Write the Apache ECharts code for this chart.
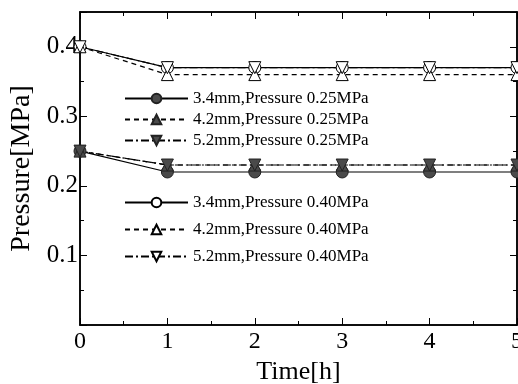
<!DOCTYPE html>
<html>
<head>
<meta charset="utf-8">
<script src="https://cdn.jsdelivr.net/npm/echarts@6/dist/echarts.min.js"></script>
<style>
  html, body { margin: 0; padding: 0; background: #fff; }
  #chart { width: 518px; height: 384px; }
</style>
</head>
<body>
<div id="chart"></div>
<script>
// data
const hours = [0, 1, 2, 3, 4, 5];
const d34_025 = [0.25, 0.22, 0.22, 0.22, 0.22, 0.22];
const d42_025 = [0.25, 0.23, 0.23, 0.23, 0.23, 0.23];
const d52_025 = [0.25, 0.23, 0.23, 0.23, 0.23, 0.23];
const d34_040 = [0.40, 0.37, 0.37, 0.37, 0.37, 0.37];
const d42_040 = [0.40, 0.36, 0.36, 0.36, 0.36, 0.36];
const d52_040 = [0.40, 0.37, 0.37, 0.37, 0.37, 0.37];

const names025 = ['3.4mm,Pressure 0.25MPa', '4.2mm,Pressure 0.25MPa', '5.2mm,Pressure 0.25MPa'];
const names040 = ['3.4mm,Pressure 0.40MPa', '4.2mm,Pressure 0.40MPa', '5.2mm,Pressure 0.40MPa'];

const serif = 'Liberation Serif';
const downTri = 'path://M0,0 L10,0 L5,9 Z';

function pts(vals) {
  return vals.map((v, i) => [hours[i], v]);
}

function makeSeries(name, vals, symbol, filled, lineType) {
  return {
    name: name,
    type: 'line',
    data: pts(vals),
    symbol: symbol,
    symbolSize: 12,
    lineStyle: { color: '#000', width: 1.2, type: lineType },
    itemStyle: {
      color: filled ? '#4a4a4a' : '#fff',
      borderColor: filled ? '#222' : '#000',
      borderWidth: 1
    },
    emphasis: { disabled: true },
    animation: false
  };
}

function ticks() {
  return { show: true, inside: true, length: 7, lineStyle: { color: '#000', width: 1 } };
}
function minor() {
  return { show: true, splitNumber: 2, length: 4, lineStyle: { color: '#000', width: 1 } };
}
function line() {
  return { show: true, onZero: false, lineStyle: { color: '#000', width: 1.5 } };
}

const chart = echarts.init(document.getElementById('chart'));

chart.setOption({
  backgroundColor: '#fff',
  animation: false,
  grid: {
    left: 80, right: 1, top: 12, bottom: 59,
    outerBoundsMode: 'none',
    containLabel: false,
    show: true, borderColor: '#000', borderWidth: 1.5
  },
  legend: [
    {
      data: names025,
      orient: 'vertical',
      left: 119,
      top: 85,
      itemWidth: 63,
      itemHeight: 12,
      itemGap: 4,
      textStyle: { fontFamily: serif, fontSize: 17, color: '#000' },
      selectedMode: false
    },
    {
      data: names040,
      orient: 'vertical',
      left: 119,
      top: 189,
      itemWidth: 63,
      itemHeight: 12,
      itemGap: 10,
      textStyle: { fontFamily: serif, fontSize: 17, color: '#000' },
      selectedMode: false
    }
  ],
  xAxis: [
    {
      type: 'value',
      min: 0,
      max: 5,
      interval: 1,
      name: 'Time[h]',
      nameLocation: 'middle',
      nameGap: 26,
      nameTextStyle: { fontFamily: serif, fontSize: 26, color: '#000' },
      axisLine: line(),
      axisTick: ticks(),
      minorTick: minor(),
      axisLabel: { fontFamily: serif, fontSize: 24, color: '#000', margin: 5 },
      splitLine: { show: false }
    },
    {
      type: 'value',
      position: 'top',
      min: 0,
      max: 5,
      interval: 1,
      axisLine: line(),
      axisTick: ticks(),
      minorTick: minor(),
      axisLabel: { show: false },
      splitLine: { show: false }
    }
  ],
  yAxis: [
    {
      type: 'value',
      min: 0,
      max: 0.45,
      interval: 0.1,
      name: 'Pressure[MPa]',
      nameLocation: 'middle',
      nameGap: 40,
      nameTextStyle: { fontFamily: serif, fontSize: 28, color: '#000' },
      axisLine: line(),
      axisTick: ticks(),
      minorTick: minor(),
      axisLabel: {
        fontFamily: serif,
        fontSize: 25,
        color: '#000',
        margin: 2,
        formatter: v => (v === 0 || v > 0.42 ? '' : v.toFixed(1))
      },
      splitLine: { show: false }
    },
    {
      type: 'value',
      position: 'right',
      min: 0,
      max: 0.45,
      interval: 0.1,
      axisLine: line(),
      axisTick: ticks(),
      minorTick: minor(),
      axisLabel: { show: false },
      splitLine: { show: false }
    }
  ],
  series: [
    makeSeries(names025[0], d34_025, 'circle', true, 'solid'),
    makeSeries(names025[1], d42_025, 'triangle', true, [5, 4]),
    makeSeries(names025[2], d52_025, downTri, true, [8, 3, 2, 3]),
    makeSeries(names040[0], d34_040, 'circle', false, 'solid'),
    makeSeries(names040[1], d42_040, 'triangle', false, [5, 4]),
    makeSeries(names040[2], d52_040, downTri, false, [8, 3, 2, 3]),
    // empty series so the top and right mirror axes are drawn
    { type: 'line', xAxisIndex: 1, yAxisIndex: 1, data: [], silent: true }
  ]
});
</script>
</body>
</html>
